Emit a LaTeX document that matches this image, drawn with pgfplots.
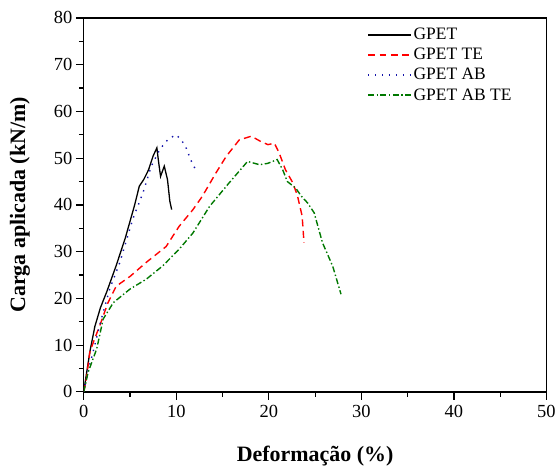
\documentclass[border=0pt]{standalone}
\usepackage{fontspec}
\setmainfont{Liberation Serif}
\usepackage{pgfplots}
\pgfplotsset{compat=1.18}
\definecolor{dgreen}{RGB}{0,120,0}
\definecolor{dblue}{RGB}{20,20,170}
\begin{document}
\begin{tikzpicture}
\begin{axis}[
  name=ax,
  scale only axis,
  width=464pt, height=375pt,
  xmin=0, xmax=50, ymin=0, ymax=80,
  xtick={0,10,20,30,40,50},
  ytick={0,10,20,30,40,50,60,70,80},
  minor x tick num=1, minor y tick num=1,
  tick align=outside,
  xtick pos=bottom, ytick pos=left,
  major tick length=8pt, minor tick length=5pt,
  every tick/.style={black, line width=1.2pt},
  axis line style={line width=1.3pt},
  /pgf/number format/assume math mode=true,
  tick label style={font=\fontsize{18.5}{18.5}\selectfont},
  xticklabel style={yshift=-2pt},
  xlabel={\textbf{Deformação (\%)}},
  ylabel={\textbf{Carga aplicada (kN/m)}},
  label style={font=\fontsize{22}{22}\selectfont},
  xlabel style={yshift=-21pt},
  ylabel style={yshift=17pt},
  legend style={draw=none, fill=none, at={(rel axis cs:0.606,0.982)}, anchor=north west,
    font=\fontsize{17.5}{17.5}\selectfont, row sep=4pt,
    nodes={inner xsep=2pt, inner ysep=1.5pt}},
  legend cell align=left,
  legend image code/.code={\draw[#1] (0pt,0pt) -- (43pt,0pt);},
]
\addplot[black, line width=1.3pt] coordinates {
(0,0) (0.3,4) (0.7,9) (1.2,14) (1.8,18) (2.5,21.5) (3.5,27) (4.5,33) (5.5,40) (6,44) (6.5,45.5) (7,47.5) (7.5,50.5) (7.9,52.2) (8.1,49) (8.3,46.1) (8.7,48.3) (9.05,45.4) (9.3,40.8) (9.5,39)
};
\addlegendentry{GPET}
\addplot[red, line width=1.4pt, dash pattern=on 7pt off 4.5pt] coordinates {
(0,0) (0.3,3) (0.65,8.5) (1.2,11.5) (1.7,14) (2.6,19) (3.5,22.6) (5,24.7) (6.75,27.7) (8.9,31.1) (10.3,35.4) (11.8,39) (12.8,41.8) (14.3,46.9) (15.4,50.4) (16.8,53.9) (18.1,54.7) (19.1,53.6) (19.9,52.9) (20.6,53.2) (21.1,51.2) (21.8,47.5) (22.6,44.7) (23.1,41.9) (23.6,37.6) (23.8,31.9)
};
\addlegendentry{GPET TE}
\addplot[dblue, line width=1.4pt, dash pattern=on 1.4pt off 5.6pt] coordinates {
(0,0) (0.4,4) (1,8.5) (1.9,15.6) (2.8,22) (3.9,27.7) (5.3,37) (6.4,42.6) (7.3,48.3) (8.2,51.8) (8.9,53.6) (9.5,54.5) (10,55) (10.5,54) (11,52.5) (11.7,49) (12.1,47.5)
};
\addlegendentry{GPET AB}
\addplot[dgreen, line width=1.4pt, dash pattern=on 6pt off 2.5pt on 1.4pt off 2.5pt] coordinates {
(0,0) (0.47,4.2) (1.4,9.2) (2.1,15.6) (3.2,19.1) (5,22) (6.75,24.1) (8.5,26.9) (10.3,30.5) (11.8,34) (13.6,39.7) (15.7,44.7) (17.7,49.3) (19,48.6) (19.9,48.9) (20.9,49.7) (21.5,47.5) (22,45) (22.9,43.6) (23.5,41.9) (24.2,40.4) (24.9,38.3) (25.8,31.9) (26.9,26.9) (27.8,20.9)
};
\addlegendentry{GPET AB TE}
\end{axis}
\path (ax.south west) ++(-84pt,-74pt);
\path (ax.north east) ++(11pt,18pt);
\end{tikzpicture}
\end{document}
